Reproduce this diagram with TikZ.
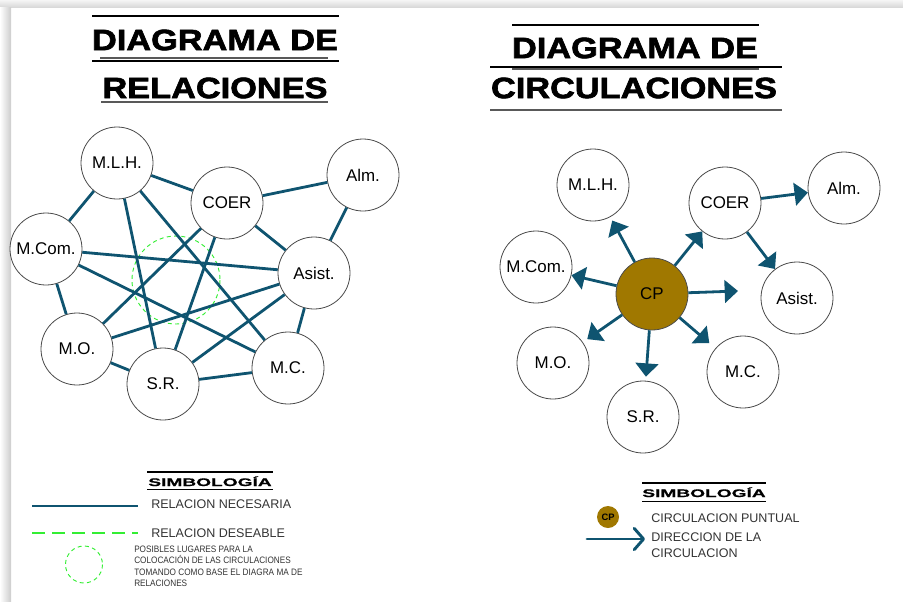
\documentclass[tikz,border=0pt]{standalone}
\usepackage{fontspec}
\setmainfont{Liberation Sans}
\newfontfamily\titlefont{Liberation Sans Bold}[FakeStretch=1.17,FakeBold=2.2]
\newfontfamily\symbfont{Liberation Sans Bold}[FakeStretch=1.75,FakeBold=0.8]
\newfontfamily\smallfont{Liberation Sans}[FakeStretch=0.88]
\usetikzlibrary{arrows.meta}
\definecolor{link}{HTML}{0F5470}
\definecolor{wish}{HTML}{33EE33}
\definecolor{cpfill}{HTML}{A07800}
\definecolor{rim}{HTML}{4A4A4A}
\definecolor{ink}{HTML}{333333}
\tikzset{
  room/.style={circle, draw=rim, line width=0.6pt, fill=white, minimum size=54pt, inner sep=0pt, font=\fontsize{12.7}{14}\selectfont},
  hub/.style={room, fill=cpfill, draw=black!70},
  need/.style={draw=link, line width=2.1pt},
  wishline/.style={draw=wish, line width=0.8pt, dash pattern=on 10pt off 5pt},
  spot/.style={draw=wish, line width=0.7pt, dash pattern=on 3pt off 2.5pt},
  flow/.style={draw=link, line width=2.1pt, -{Triangle[length=10pt,width=17pt]}},
  rule/.style={draw=black, line width=0.8pt},
  softrule/.style={draw=black!65, line width=1pt},
  headline/.style={inner sep=0pt, font=\titlefont\fontsize{22}{24}\selectfont},
  symb/.style={inner sep=0pt, anchor=base, font=\symbfont\fontsize{8.2}{9}\selectfont},
  lbl/.style={inner sep=0pt, anchor=west, text=ink, font=\fontsize{9.4}{11}\selectfont},
  note/.style={inner sep=0pt, anchor=north west, text=ink, align=left, font=\smallfont\fontsize{7}{8.6}\selectfont}
}

\begin{document}
\begin{tikzpicture}[x=0.75pt,y=-0.75pt]
  \useasboundingbox (0,0) rectangle (903,601);
  \shade[top color=gray!8, bottom color=gray!30] (0,0) rectangle (903,7);
  \shade[left color=white, right color=gray!40] (0,7) rectangle (11,601);

  % titulos
  \draw[rule] (92,16) -- (339,16);
  \node[headline] (tl1) at (215,40) {DIAGRAMA DE};
  \draw[softrule] (100,58) -- (328,58);
  \draw[rule] (92,61) -- (339,61);
  \node[headline] (tl2) at (215,88) {RELACIONES};
  \draw[softrule] (101,102) -- (328,102);

  \draw[rule] (512,25) -- (759,25);
  \node[headline] (tr1) at (635,48) {DIAGRAMA DE};
  \draw[rule] (490,67) -- (782,67);
  \draw[softrule] (512,69) -- (759,69);
  \node[headline] (tr2) at (634,88) {CIRCULACIONES};
  \draw[softrule] (490,110) -- (782,110);

  % diagrama de relaciones
  \draw[spot] (176,280) circle (44);
  \node[room] (lmlh) at (117,163) {M.L.H.};
  \node[room] (lcoer) at (227,203) {COER};
  \node[room] (lalm) at (363,175) {Alm.};
  \node[room] (lmcom) at (46,249) {M.Com.};
  \node[room] (lasist) at (314,273) {Asist.};
  \node[room] (lmo) at (77,349) {M.O.};
  \node[room] (lsr) at (163,384) {S.R.};
  \node[room] (lmc) at (288,368) {M.C.};
  \draw[need] (lmlh) -- (lcoer);
  \draw[need] (lmlh) -- (lmcom);
  \draw[need] (lmlh) -- (lsr);
  \draw[need] (lmlh) -- (lmc);
  \draw[need] (lcoer) -- (lalm);
  \draw[need] (lcoer) -- (lasist);
  \draw[need] (lcoer) -- (lmo);
  \draw[need] (lcoer) -- (lsr);
  \draw[need] (lalm) -- (lasist);
  \draw[need] (lmcom) -- (lasist);
  \draw[need] (lmcom) -- (lmo);
  \draw[need] (lmcom) -- (lmc);
  \draw[need] (lasist) -- (lmo);
  \draw[need] (lasist) -- (lsr);
  \draw[need] (lasist) -- (lmc);
  \draw[need] (lmo) -- (lsr);
  \draw[need] (lsr) -- (lmc);

  % diagrama de circulaciones
  \node[room] (rmlh) at (593,185) {M.L.H.};
  \node[room] (rcoer) at (725,203) {COER};
  \node[room] (ralm) at (844,188) {Alm.};
  \node[room] (rmcom) at (536,267) {M.Com.};
  \node[hub] (rcp) at (652,294) {CP};
  \node[room] (rasist) at (797,298) {Asist.};
  \node[room] (rmo) at (553,363) {M.O.};
  \node[room] (rsr) at (643,417) {S.R.};
  \node[room] (rmc) at (743,372) {M.C.};
  \coordinate (rout) at (738,291);
  \draw[flow, shorten >=3pt] (rcp) -- (rmlh);
  \draw[flow] (rcp) -- (rmcom);
  \draw[flow] (rcp) -- (rcoer);
  \draw[flow] (rcp) -- (rout);
  \draw[flow, shorten >=6pt] (rcp) -- (rmc);
  \draw[flow, shorten >=3pt] (rcp) -- (rsr);
  \draw[flow, shorten >=4pt] (rcp) -- (rmo);
  \draw[flow] (rcoer) -- (ralm);
  \draw[flow] (rcoer) -- (rasist);

  % simbologia izquierda
  \draw[rule] (147,472) -- (273,472);
  \node[symb] (sl) at (210,486) {SIMBOLOGÍA};
  \draw[rule] (147,489.5) -- (273,489.5);
  \coordinate (ka) at (32,506);
  \coordinate (kb) at (138,506);
  \draw[need, line width=1.8pt] (ka) -- (kb);
  \node[lbl] (kt1) at (151,504) {RELACION NECESARIA};
  \coordinate (kc) at (32,533);
  \coordinate (kd) at (138,533);
  \draw[wishline] (kc) -- (kd);
  \node[lbl] (kt2) at (151,533) {RELACION DESEABLE};
  \draw[spot] (84,564.5) circle (18.5);
  \node[note] (kt3) at (134,545.5) {POSIBLES LUGARES PARA LA\\COLOCACIÓN DE LAS CIRCULACIONES\\TOMANDO COMO BASE EL DIAGRA MA DE\\RELACIONES};

  % simbologia derecha
  \draw[rule] (642,483) -- (766,483);
  \node[symb] (sr) at (704,497) {SIMBOLOGÍA};
  \draw[rule] (642,501.5) -- (766,501.5);
  \node[circle, fill=cpfill, minimum size=16.5pt, inner sep=0pt, font=\bfseries\fontsize{7}{8}\selectfont] (kcp) at (608,517) {CP};
  \node[lbl] (kt4) at (651,518) {CIRCULACION PUNTUAL};
  \coordinate (ke) at (587,539);
  \coordinate (kf) at (645,539);
  \draw[draw=link, line width=2.2pt, line cap=round, -{Straight Barb[length=7pt,width=16pt,line join=round,line cap=round]}] (ke) -- (kf);
  \node[lbl, align=left, anchor=north west, font=\fontsize{9.4}{12.3}\selectfont] (kt5) at (651,532) {DIRECCION DE LA\\CIRCULACION};
\end{tikzpicture}
\end{document}
